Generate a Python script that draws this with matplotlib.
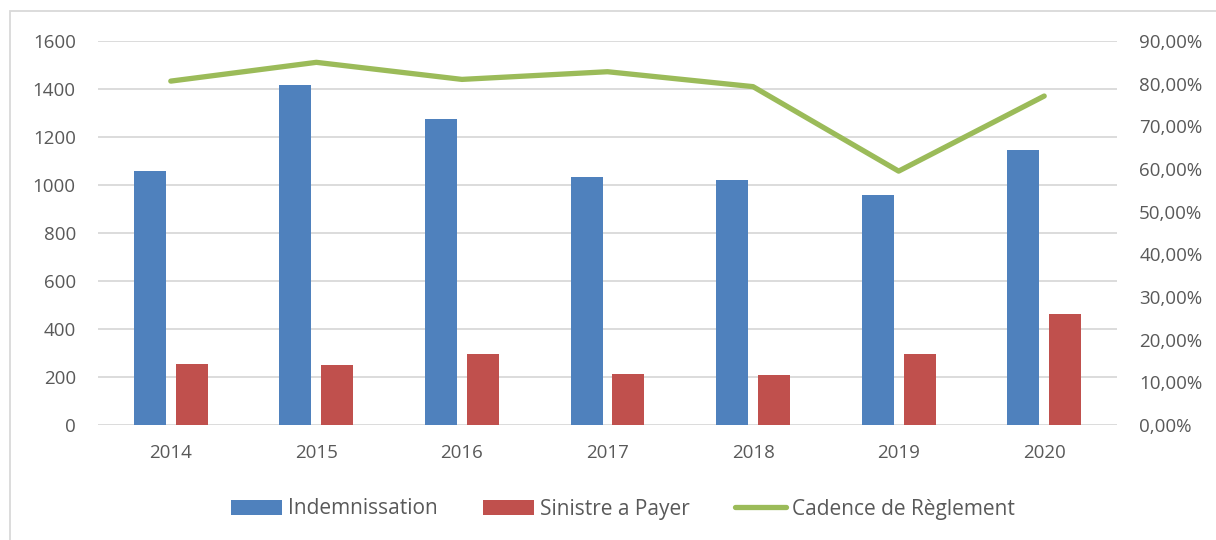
import matplotlib
matplotlib.use('Agg')
from matplotlib import pyplot as plt
from matplotlib.ticker import FuncFormatter
from matplotlib.patches import Rectangle
import numpy as np

years = ['2014', '2015', '2016', '2017', '2018', '2019', '2020']
indemnisation = [1058, 1415, 1275, 1035, 1022, 960, 1146]
sinistre = [254, 250, 297, 214, 210, 296, 461]
cadence = [80.6, 85.0, 81.0, 82.8, 79.3, 59.5, 77.1]

plt.rcParams['font.family'] = ['Open Sans', 'DejaVu Sans']
grey = '#595959'

fig = plt.figure(figsize=(12.16, 5.4), dpi=100)
ax = fig.add_axes([98/1216, 1-425/540, (1117-98)/1216, 384/540])
ax2 = ax.twinx()

x = np.arange(len(years))
w = 0.22
b1 = ax.bar(x - 0.144, indemnisation, w, color='#4F81BD', zorder=3, label='Indemnissation')
b2 = ax.bar(x + 0.144, sinistre, w, color='#C0504D', zorder=3, label='Sinistre a Payer')
l1, = ax2.plot(x, cadence, color='#9BBB59', lw=3.8, solid_capstyle='round', label='Cadence de Règlement')

ax.set_xlim(-0.5, len(years) - 0.5)
ax.set_ylim(0, 1600)
ax.set_yticks(range(0, 1601, 200))
ax2.set_ylim(0, 90)
ax2.set_yticks(range(0, 91, 10))
ax2.yaxis.set_major_formatter(FuncFormatter(lambda v, p: f'{v:.2f}'.replace('.', ',') + '%'))
ax.set_xticks(x)
ax.set_xticklabels(years)

ax.grid(axis='y', color='#D9D9D9', lw=1.3, zorder=0)
for a in (ax, ax2):
    for s in a.spines.values():
        s.set_visible(False)
    a.tick_params(length=0, labelsize=13.5, colors=grey)
ax.tick_params(axis='y', pad=16)
ax.tick_params(axis='x', pad=14)
ax2.tick_params(axis='y', pad=16)

fig.legend([b1, b2, l1], [b1.get_label(), b2.get_label(), l1.get_label()],
           loc='center', bbox_to_anchor=(623/1216, 1-509/540), ncol=3, frameon=False,
           fontsize=15, handlelength=2.45, handletextpad=0.3, columnspacing=2.15,
           labelcolor=grey)

fig.patches.append(Rectangle((10/1216, -0.1), 1.2, 1-11/540+0.1, transform=fig.transFigure,
                             fill=False, edgecolor='#D9D9D9', lw=1.3))

fig.savefig('out.png', dpi=100)
